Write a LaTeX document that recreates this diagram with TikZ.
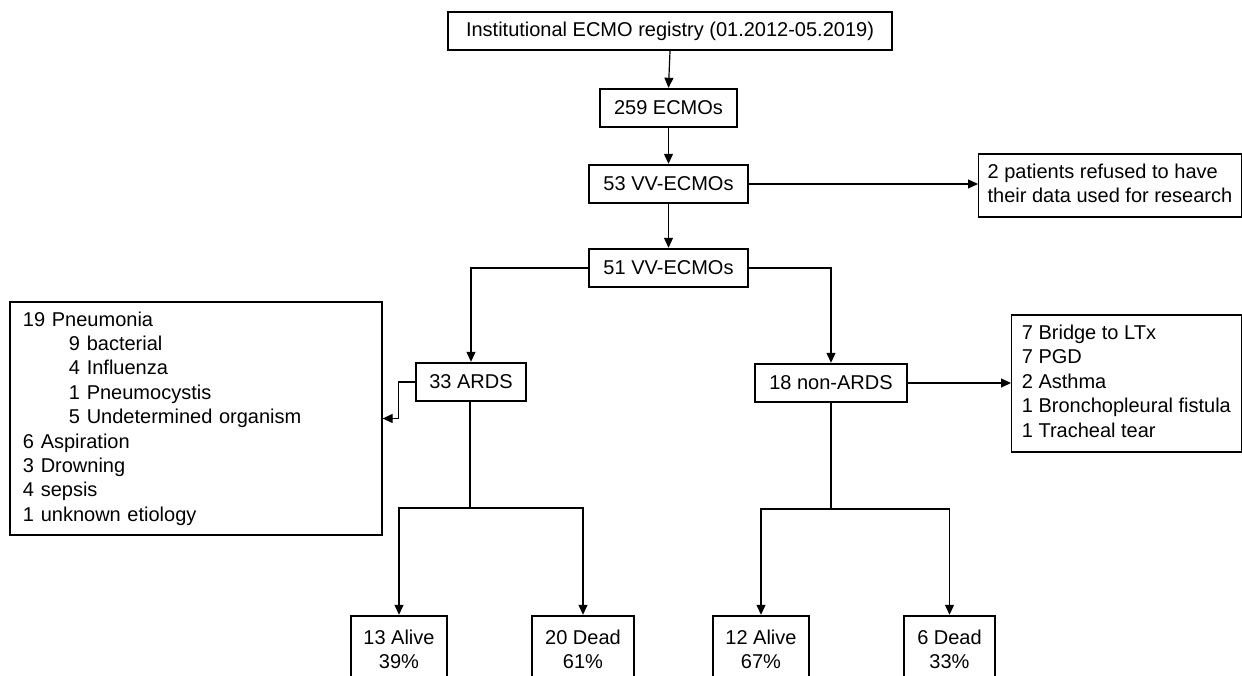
\documentclass[tikz,border=0pt]{standalone}
\usepackage{fontspec}
\setmainfont{Liberation Sans}
\usetikzlibrary{arrows.meta}
\tikzset{
  basefont/.style={font=\fontsize{20}{24.4}\selectfont},
  boldbox/.style={draw=black, line width=2.4pt, inner sep=0pt, basefont, align=center},
  thinbox/.style={draw=black, line width=1.3pt, inner sep=0pt, basefont},
  conn/.style={draw=black, line width=1.2pt},
  arr/.style={conn, -{Triangle[length=10pt,width=9pt]}}
}
\begin{document}
\begin{tikzpicture}[x=1pt,y=-1pt]
\useasboundingbox (0,0) rectangle (1242,676);
\fill[white] (0,0) rectangle (1242,676);
\clip (0,0) rectangle (1242,676);

% main column
\node[boldbox, minimum width=444, minimum height=38] (top) at (670,31)
  {Institutional ECMO registry (01.2012-05.2019)};
\node[boldbox, minimum width=137, minimum height=38] (e259) at (668.5,108) {259 ECMOs};
\node[boldbox, minimum width=159, minimum height=38] (vv53) at (668.5,184) {53 VV-ECMOs};
\node[boldbox, minimum width=159, minimum height=38] (vv51) at (668.5,268) {51 VV-ECMOs};

\node[thinbox, minimum width=262.5, minimum height=63, anchor=west] (refused) at (978,185.5)
  {\begin{tabular}{@{}l@{}}2 patients refused to have\\their data used for research\end{tabular}};

\node[boldbox, minimum width=110, minimum height=38] (ards) at (471,382) {33 ARDS};
\node[boldbox, minimum width=152, minimum height=38] (nonards) at (831,383) {18 non-ARDS};

\node[thinbox, minimum height=233, text width=346, inner xsep=13pt, align=left] (leftbox) at (196,418.5)
  {19 Pneumonia\\
   \hspace*{46pt}9 bacterial\\
   \hspace*{46pt}4 Influenza\\
   \hspace*{46pt}1 Pneumocystis\\
   \hspace*{46pt}5 Undetermined organism\\
   6 Aspiration\\
   3 Drowning\\
   4 sepsis\\
   1 unknown etiology};

\node[thinbox, minimum width=229.5, minimum height=137, anchor=west] (rightbox) at (1011,383.5)
  {\begin{tabular}{@{}l@{}}7 Bridge to LTx\\7 PGD\\2 Asthma\\1 Bronchopleural fistula\\1 Tracheal tear\end{tabular}};

% outcome boxes
\node[boldbox, minimum width=96, minimum height=67] (alive13) at (399,649.5) {13 Alive\\39\%};
\node[boldbox, minimum width=102, minimum height=67] (dead20) at (583,649.5) {20 Dead\\61\%};
\node[boldbox, minimum width=96, minimum height=67] (alive12) at (761,649.5) {12 Alive\\67\%};
\node[boldbox, minimum width=91, minimum height=67] (dead6) at (949.5,649.5) {6 Dead\\33\%};

% connectors
\draw[arr] (top.south) -- (e259.north);
\draw[arr] (e259.south) -- (vv53.north);
\draw[arr] (vv53.south) -- (vv51.north);
\draw[arr] (vv53.east) -- (vv53.east -| refused.west);
\draw[arr] (vv51.west) -| (ards.north);
\draw[arr] (vv51.east) -| (nonards.north);
\draw[arr] (ards.west) -- ++(-16,0) |- (leftbox.east);
\draw[arr] (nonards.east) -- (nonards.east -| rightbox.west);

\coordinate (ls) at (470,508);
\coordinate (rs) at (831,509);
\draw[conn] (ards.south -| ls) -- (ls);
\draw[arr] (ls) -| (alive13.north);
\draw[arr] (ls) -| (dead20.north);
\draw[conn] (nonards.south) -- (rs);
\draw[arr] (rs) -| (alive12.north);
\draw[arr] (rs) -| (dead6.north);
\end{tikzpicture}
\end{document}
